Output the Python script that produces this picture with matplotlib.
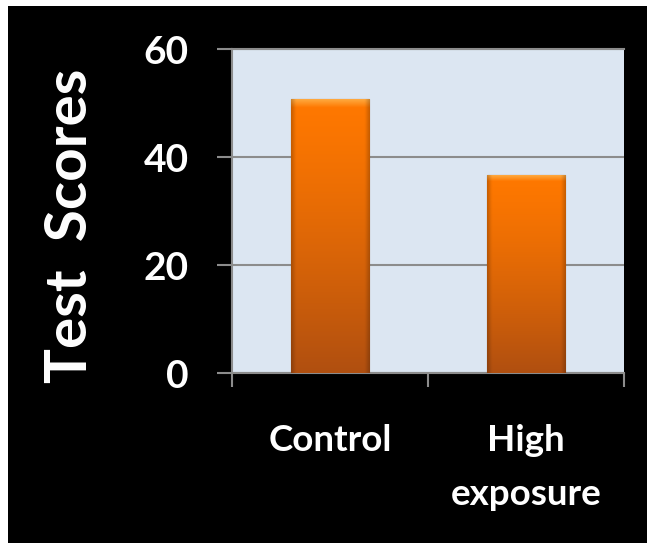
import numpy as np
import matplotlib
matplotlib.use("Agg")
import matplotlib.pyplot as plt
from matplotlib.patches import Rectangle
from matplotlib.colors import to_rgb

# ---- data ----
categories = ["Control", "High\nexposure"]
scores = [50.7, 36.6]
y_ticks = [0, 20, 40, 60]
y_label = "Test  Scores"

plt.rcParams['font.family'] = ['Lato', 'DejaVu Sans']

W, H = 647, 543
fig = plt.figure(figsize=(W / 100, H / 100), dpi=100, facecolor='white')
# black panel (white margin at left and top)
fig.patches.append(Rectangle((8 / W, 0), 1 - 8 / W, (H - 6) / H,
                             transform=fig.transFigure, facecolor='black',
                             edgecolor='none', zorder=-10))

ax = fig.add_axes([232 / W, (H - 373) / H, (624 - 232) / W, (373 - 49) / H])
ax.set_zorder(5)
ax.set_facecolor('#DCE6F2')

x = np.arange(len(categories))
bars = ax.bar(x, scores, width=0.4, color='#E86A08', edgecolor='#7A3408',
              linewidth=0.8, zorder=3)

# vertical gradient with bevel highlight, clipped to each bar
n = 400
t = np.linspace(0, 1, n)[:, None]  # 0 = top, 1 = bottom
top = np.array(to_rgb('#FF7800'))
bot = np.array(to_rgb('#B04F10'))
tt = t ** 1.3
grad = top * (1 - tt) + bot * tt
img = np.repeat(grad[:, None, :], 60, axis=1)
# top highlight
hl = np.array(to_rgb('#FFB24A'))
for i in range(12):
    a = 1 - i / 12
    img[i] = img[i] * (1 - a * 0.85) + hl * a * 0.85
# side darkening
cols = np.linspace(0, 1, 60)
side = 1 - 0.2 * (np.clip(1 - cols / 0.06, 0, 1) + np.clip((cols - 0.94) / 0.06, 0, 1))
img = np.clip(img * side[None, :, None], 0, 1)
for b in bars:
    x0, y0 = b.get_x(), b.get_y()
    w, h = b.get_width(), b.get_height()
    im = ax.imshow(img, extent=(x0, x0 + w, y0, y0 + h), aspect='auto',
                   zorder=3.5, interpolation='bilinear')
    im.set_clip_path(b)

ax.set_xlim(-0.5, len(categories) - 0.5)
ax.set_ylim(0, 60)
ax.set_yticks(y_ticks)
ax.set_yticklabels([str(v) for v in y_ticks])
ax.set_xticks(x)
ax.set_xticklabels(categories, linespacing=1.75)
ax.set_xticks(np.arange(-0.5, len(categories)), minor=True)

ax.grid(axis='y', color='#8C8C8C', linewidth=1.5, zorder=1)
ax.set_axisbelow(True)

ax.spines['right'].set_visible(False)
for s in ['top', 'left', 'bottom']:
    ax.spines[s].set_color('#8C8C8C')
    ax.spines[s].set_linewidth(1.5)

ax.tick_params(axis='y', colors='#8C8C8C', length=11, width=1.5,
               labelcolor='white', labelsize=28, pad=20)
ax.tick_params(axis='x', which='major', length=0, labelcolor='white',
               labelsize=26.5, pad=37)
ax.tick_params(axis='x', which='minor', length=10, width=1.5, colors='#8C8C8C')
for lab in ax.get_yticklabels() + ax.get_xticklabels():
    lab.set_fontweight('bold')

ax.set_ylabel(y_label, color='white', fontsize=42, fontweight='bold')
ax.yaxis.label.set_va('center')
ax.yaxis.set_label_coords((71 - 232) / (624 - 232), (373 - 226) / (373 - 49))

fig.savefig('out.png', dpi=100, facecolor=fig.get_facecolor())
